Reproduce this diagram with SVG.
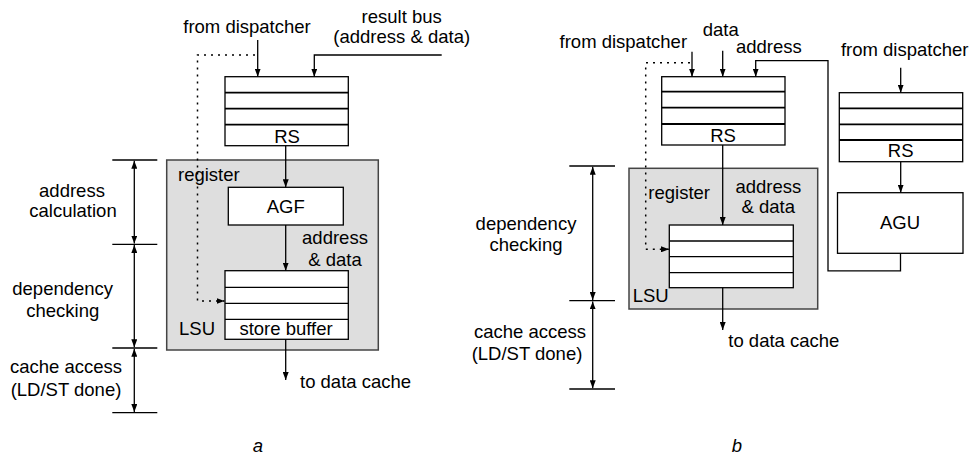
<svg xmlns="http://www.w3.org/2000/svg" width="973" height="455" viewBox="0 0 973 455">
<defs>
<marker id="ah" viewBox="0 0 8 6" refX="8" refY="3" markerWidth="8" markerHeight="6" markerUnits="userSpaceOnUse" orient="auto-start-reverse">
<path d="M0,0 L8,3 L0,6 z" fill="#000"/>
</marker>
<style>
text{font-family:"Liberation Sans",Arial,Helvetica,sans-serif;font-size:18.5px;fill:#000}
.m{text-anchor:middle}
.it{font-style:italic}
.box{fill:#fff;stroke:#000;stroke-width:1.3}
.lsu{fill:#dedede;stroke:#444;stroke-width:1.5}
.row{stroke:#000;stroke-width:1.8;fill:none}
.row2{stroke:#000;stroke-width:1.3;fill:none}
.ln{stroke:#000;stroke-width:1.3;fill:none}
.arr{stroke:#000;stroke-width:1.3;fill:none;marker-end:url(#ah)}
.dim{stroke:#000;stroke-width:1.3;fill:none;marker-start:url(#ah);marker-end:url(#ah)}
.dot{stroke:#000;stroke-width:1.5;fill:none;stroke-dasharray:2 5;marker-end:url(#ah)}
</style>
</defs>

<!-- ===== Diagram a ===== -->
<g id="a-lsu">
<rect class="lsu" x="166.7" y="160" width="211.6" height="190"/>
<text x="178" y="181">register</text>
<text x="179" y="335">LSU</text>
</g>
<g id="a-rs">
<rect class="box" x="225" y="76.7" width="123.3" height="69"/>
<line class="row" x1="225" y1="92.7" x2="348.3" y2="92.7"/>
<line class="row" x1="225" y1="108.7" x2="348.3" y2="108.7"/>
<line class="row" x1="225" y1="124.7" x2="348.3" y2="124.7"/>
<text class="m" x="287" y="142.7">RS</text>
</g>
<g id="a-agf">
<rect class="box" x="228.3" y="187.3" width="115" height="37.7"/>
<text class="m" x="285.7" y="213.3">AGF</text>
</g>
<g id="a-sb">
<rect class="box" x="225" y="270.7" width="123.3" height="68.6"/>
<line class="row2" x1="225" y1="287.3" x2="348.3" y2="287.3"/>
<line class="row2" x1="225" y1="303.3" x2="348.3" y2="303.3"/>
<line class="row2" x1="225" y1="319.3" x2="348.3" y2="319.3"/>
<text class="m" x="286" y="335">store buffer</text>
</g>
<g id="a-labels">
<text class="m" x="247" y="33">from dispatcher</text>
<text class="m" x="401.7" y="22.5">result bus</text>
<text class="m" x="401.7" y="42.5">(address &amp; data)</text>
<text class="m" x="335" y="244">address</text>
<text class="m" x="335" y="265.7">&amp; data</text>
<text x="300" y="388.3">to data cache</text>
<text class="m" x="72" y="196.7">address</text>
<text class="m" x="73" y="216.7">calculation</text>
<text class="m" x="62.7" y="295">dependency</text>
<text class="m" x="62.7" y="316.7">checking</text>
<text class="m" x="66" y="372.5">cache access</text>
<text class="m" x="66" y="396">(LD/ST done)</text>
<text class="m it" x="258" y="452">a</text>
</g>

<!-- ===== Diagram b ===== -->
<g id="b-lsu">
<rect class="lsu" x="629" y="168.3" width="188.7" height="140.7"/>
<text x="648.3" y="199">register</text>
<text x="632.7" y="301.7">LSU</text>
</g>
<g id="b-rs1">
<rect class="box" x="661.7" y="76.7" width="123.3" height="68.3"/>
<line class="row" x1="661.7" y1="91.7" x2="785" y2="91.7"/>
<line class="row" x1="661.7" y1="107.7" x2="785" y2="107.7"/>
<line class="row" x1="661.7" y1="124" x2="785" y2="124"/>
<text class="m" x="723" y="141.7">RS</text>
</g>
<g id="b-buf">
<rect class="box" x="669.3" y="225" width="124" height="62.7"/>
<line class="row2" x1="669.3" y1="241" x2="793.3" y2="241"/>
<line class="row2" x1="669.3" y1="256.7" x2="793.3" y2="256.7"/>
<line class="row2" x1="669.3" y1="272.7" x2="793.3" y2="272.7"/>
</g>
<g id="b-rs2">
<rect class="box" x="839.3" y="92.7" width="123.4" height="69"/>
<line class="row" x1="839.3" y1="108.3" x2="962.7" y2="108.3"/>
<line class="row" x1="839.3" y1="124.3" x2="962.7" y2="124.3"/>
<line class="row" x1="839.3" y1="140" x2="962.7" y2="140"/>
<text class="m" x="900.7" y="156.7">RS</text>
</g>
<g id="b-agu">
<rect class="box" x="837.5" y="192.7" width="125.5" height="60.6"/>
<text class="m" x="900" y="229.3">AGU</text>
</g>
<g id="b-labels">
<text class="m" x="623.3" y="48.3">from dispatcher</text>
<text class="m" x="720.7" y="36">data</text>
<text class="m" x="768.8" y="52.7">address</text>
<text class="m" x="904.7" y="56">from dispatcher</text>
<text class="m" x="768.3" y="192.7">address</text>
<text class="m" x="768.3" y="213.3">&amp; data</text>
<text x="728.3" y="346.7">to data cache</text>
<text class="m" x="526" y="229.5">dependency</text>
<text class="m" x="526" y="250.5">checking</text>
<text class="m" x="530" y="338.3">cache access</text>
<text class="m" x="527" y="359.5">(LD/ST done)</text>
<text class="m it" x="737" y="452">b</text>
</g>

<!-- ===== Connectors ===== -->
<g id="connectors">
<!-- a -->
<line class="arr" x1="257.7" y1="40" x2="257.7" y2="76.7"/>
<path class="arr" d="M441.7,55 H314.3 V76.7"/>
<path class="dot" d="M255,55 H197.5 V301 H224.5"/>
<line class="arr" x1="285.7" y1="145.7" x2="285.7" y2="187.3"/>
<line class="arr" x1="285.7" y1="225" x2="285.7" y2="270.7"/>
<line class="arr" x1="285.7" y1="339.3" x2="285.7" y2="380"/>
<line class="ln" x1="112.3" y1="160" x2="157.3" y2="160"/>
<line class="ln" x1="112.3" y1="244.3" x2="157.3" y2="244.3"/>
<line class="ln" x1="112.3" y1="348" x2="157.3" y2="348"/>
<line class="ln" x1="112.3" y1="412.7" x2="157.3" y2="412.7"/>
<line class="dim" x1="134.3" y1="160.7" x2="134.3" y2="243.6"/>
<line class="dim" x1="134.3" y1="245" x2="134.3" y2="347.3"/>
<line class="dim" x1="134.3" y1="348.7" x2="134.3" y2="412"/>
<!-- b -->
<line class="arr" x1="692" y1="51.7" x2="692" y2="76.7"/>
<line class="arr" x1="722.7" y1="50.7" x2="722.7" y2="76.7"/>
<path class="arr" d="M900.5,253.3 V270.8 H828 V60.7 H755.7 V76.7"/>
<path class="dot" d="M690,62.7 H645.7 V249.3 H669"/>
<line class="arr" x1="722.7" y1="145" x2="722.7" y2="225"/>
<line class="arr" x1="722.7" y1="287.7" x2="722.7" y2="330"/>
<line class="arr" x1="900.7" y1="67.7" x2="900.7" y2="92.7"/>
<line class="arr" x1="900.7" y1="161.7" x2="900.7" y2="192.7"/>
<line class="ln" x1="569.3" y1="166" x2="615" y2="166"/>
<line class="ln" x1="569.3" y1="300.7" x2="615" y2="300.7"/>
<line class="ln" x1="569.3" y1="389" x2="615" y2="389"/>
<line class="dim" x1="592.7" y1="166.7" x2="592.7" y2="300"/>
<line class="dim" x1="592.7" y1="301.4" x2="592.7" y2="388.3"/>
</g>
</svg>
